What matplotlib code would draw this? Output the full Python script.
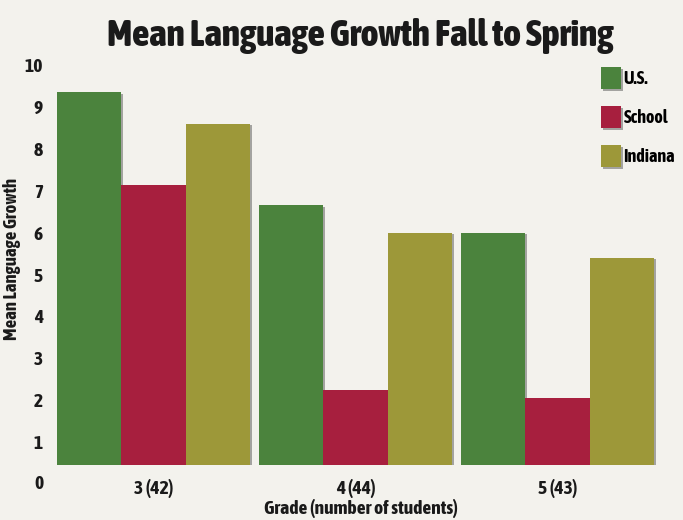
import matplotlib.pyplot as plt
import matplotlib.patheffects as pe
import matplotlib.transforms as mtransforms
import numpy as np

# grades with student counts, and mean growth per comparison group
grades = ['3 (42)', '4 (44)', '5 (43)']
us_growth = [9.35, 6.65, 6.0]
school_growth = [7.15, 2.25, 2.05]
indiana_growth = [8.6, 6.0, 5.4]

series = [('U.S.', us_growth, '#4b833d'),
          ('School', school_growth, '#a71f3e'),
          ('Indiana', indiana_growth, '#9d9839')]

bg = '#f3f2ed'
ink = '#1a1a1a'
plt.rcParams['font.family'] = ['Asap Condensed', 'Barlow Condensed', 'DejaVu Sans']
plt.rcParams['font.weight'] = 'bold'

fig = plt.figure(figsize=(6.83, 5.2), dpi=100, facecolor=bg)
ax = fig.add_axes([57 / 683, 55 / 520, 608 / 683, 0.793])
ax.set_facecolor(bg)

x = np.arange(len(grades))
width = 0.3185
shadow = [pe.SimplePatchShadow(offset=(1.2, -1.2), shadow_rgbFace='#555555', alpha=0.5), pe.Normal()]
for i, (name, vals, col) in enumerate(series):
    ax.bar(x + (i - 1) * width, vals, width, color=col, label=name,
           linewidth=0, path_effects=shadow)

ax.set_xlim(-0.4775, 2.532)
ax.set_ylim(0.45, 10.3)
ax.set_yticks(range(1, 11))
ax.set_xticks(x)
ax.set_xticklabels(grades)
for s in ax.spines.values():
    s.set_visible(False)
ax.tick_params(axis='both', length=0, labelsize=14, colors=ink)
ax.tick_params(axis='y', pad=10)
ax.tick_params(axis='x', pad=10)

# the zero label sits below the bar floor
trans = mtransforms.offset_copy(ax.get_yaxis_transform(), fig=fig, x=-10, y=0, units='points')
ax.text(0, 0, '0', transform=trans, ha='right', va='center', fontsize=14,
        color=ink, clip_on=False)

ax.set_ylabel('Mean Language Growth', fontsize=13.5, fontweight='bold', color=ink, labelpad=3)
ax.set_xlabel('Grade (number of students)', fontsize=14, fontweight='bold', color=ink, labelpad=1)

fig.suptitle('Mean Language Growth Fall to Spring', fontsize=27, fontweight='heavy',
             color=ink, x=0.528, y=0.965)

ax.legend(loc='upper left', bbox_to_anchor=(592 / 683, 1 - 58 / 520),
          bbox_transform=fig.transFigure, frameon=False, fontsize=13,
          handlelength=1.1, handleheight=1.5, handletextpad=0.15,
          labelspacing=0.95, borderpad=0)

fig.savefig('out.png', dpi=100, facecolor=bg)
